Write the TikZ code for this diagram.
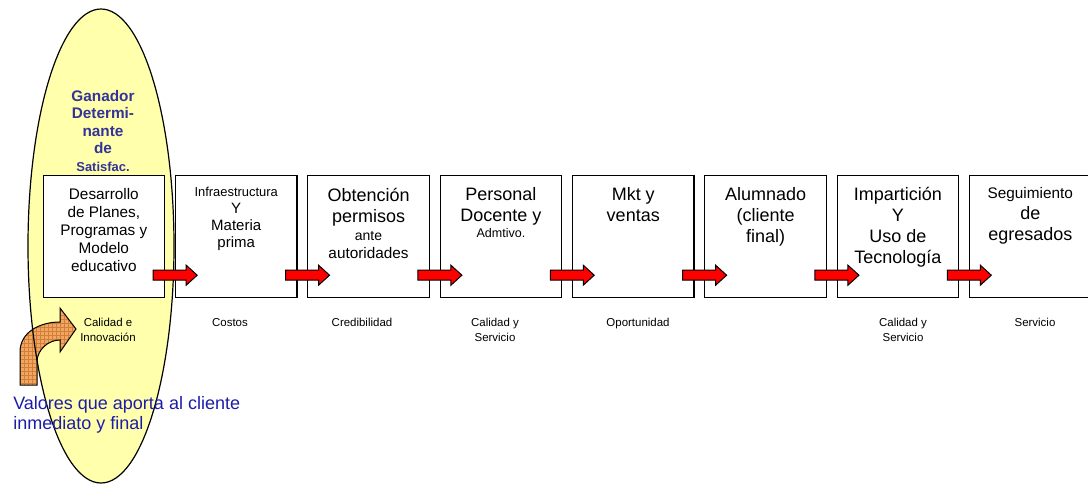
\documentclass[tikz,border=0pt]{standalone}
\usepackage{fontspec}
\setmainfont{Liberation Sans}
\usetikzlibrary{calc,patterns}
\definecolor{ovalfill}{RGB}{255,255,172}
\definecolor{titleblue}{RGB}{51,51,153}
\definecolor{notblue}{RGB}{28,28,170}
\definecolor{bentfill}{RGB}{236,168,100}
\definecolor{bentgrid}{RGB}{214,124,52}
\newcommand{\fs}[2]{\fontsize{#1}{#2}\selectfont}
\tikzset{
  stagebox/.style={draw=black, line width=0.9pt, fill=white, minimum width=121.5*0.75pt, minimum height=122*0.75pt, inner sep=0pt, anchor=north west},
  boxtext/.style={anchor=north, inner sep=0pt, align=center, font=\fs{13.5}{15.75}},
  valuetext/.style={anchor=north, inner sep=0pt, align=center, font=\fs{8.6}{10.9}},
  flowarrow/.style={draw=black, line width=0.75pt, fill=red, line join=miter},
}
\begin{document}
\begin{tikzpicture}[x=0.75pt, y=-0.75pt]
\useasboundingbox (0,0) rectangle (1088,483);

% oval behind the first stage
\fill[ovalfill] (101,246) ellipse [x radius=73, y radius=237];

% bent orange arrow pointing into the oval
\draw[line width=0.75pt, preaction={fill=bentfill}, pattern=grid, pattern color=bentgrid]
  (20,385) -- (20,352) .. controls (20,332) and (40,322) .. (60,322)
  -- (60,308) -- (76,329) -- (60,352) -- (60,340)
  .. controls (48,340) and (37,350) .. (37,362) -- (37,385) -- cycle;

\draw[line width=0.9pt] (101,246) ellipse [x radius=73, y radius=237];

% stages of the chain
\foreach \i in {1,...,8} {
  \node[stagebox] (b\i) at ({42.5+132.35*(\i-1)},175) {};
}

% red block arrows between consecutive stages
\foreach \i in {1,...,7} {
  \draw[flowarrow] ($(b\i.south east)+(-12,-28)$) -- ++(33,0) -- ++(0,-5)
    -- ++(11,10) -- ++(-11,10) -- ++(0,-5) -- ++(-33,0) -- cycle;
}

% stage texts
\node[boxtext, font=\fs{11.5}{13.5}] (t1) at ($(b1.north)+(0,13)$)
  {Desarrollo\\de Planes,\\Programas y\\Modelo\\educativo};
\node[boxtext, font=\fs{11.25}{12.75}] (t2) at ($(b2.north)+(0,12)$)
  {{\fs{9.7}{11}Infraestructura}\\Y\\Materia\\prima};
\node[boxtext] (t3) at ($(b3.north)+(0,13)$)
  {Obtención\\permisos\\[-2.25pt]{\fs{10.5}{12}ante}\\[-2.5pt]{\fs{11.5}{13}autoridades}};
\node[boxtext] (t4) at ($(b4.north)+(0,12)$)
  {Personal\\Docente y\\[-3.75pt]{\fs{9.4}{11}Admtivo.}};
\node[boxtext] (t5) at ($(b5.north)+(0,12)$) {Mkt y\\ventas};
\node[boxtext] (t6) at ($(b6.north)+(0,12)$) {Alumnado\\(cliente\\final)};
\node[boxtext] (t7) at ($(b7.north)+(0,12)$) {Impartición\\Y\\Uso de\\Tecnología};
\node[boxtext] (t8) at ($(b8.north)+(0,12)$)
  {{\fs{11.5}{13}Seguimiento}\\de\\egresados};

% values delivered by each stage
\node[valuetext] (v1) at (108,318) {Calidad e\\Innovación};
\node[valuetext] (v2) at (230,318) {Costos};
\node[valuetext] (v3) at (362,318) {Credibilidad};
\node[valuetext] (v4) at (495,318) {Calidad y\\Servicio};
\node[valuetext] (v5) at (638,318) {Oportunidad};
\node[valuetext] (v7) at (903,318) {Calidad y\\Servicio};
\node[valuetext] (v8) at (1035,318) {Servicio};

% heading inside the oval
\node[anchor=north, inner sep=0pt, align=center, text=titleblue, font=\bfseries\fs{11.5}{13.1}] (win) at (103,90)
  {Ganador\\Determi-\\nante\\de\\{\fs{9.7}{11}Satisfac.}};

% caption under the bent arrow
\node[anchor=north west, inner sep=0pt, align=left, text=notblue, font=\fs{13.5}{15}] (cap) at (13,396)
  {Valores que aporta al cliente\\inmediato y final};
\end{tikzpicture}
\end{document}
